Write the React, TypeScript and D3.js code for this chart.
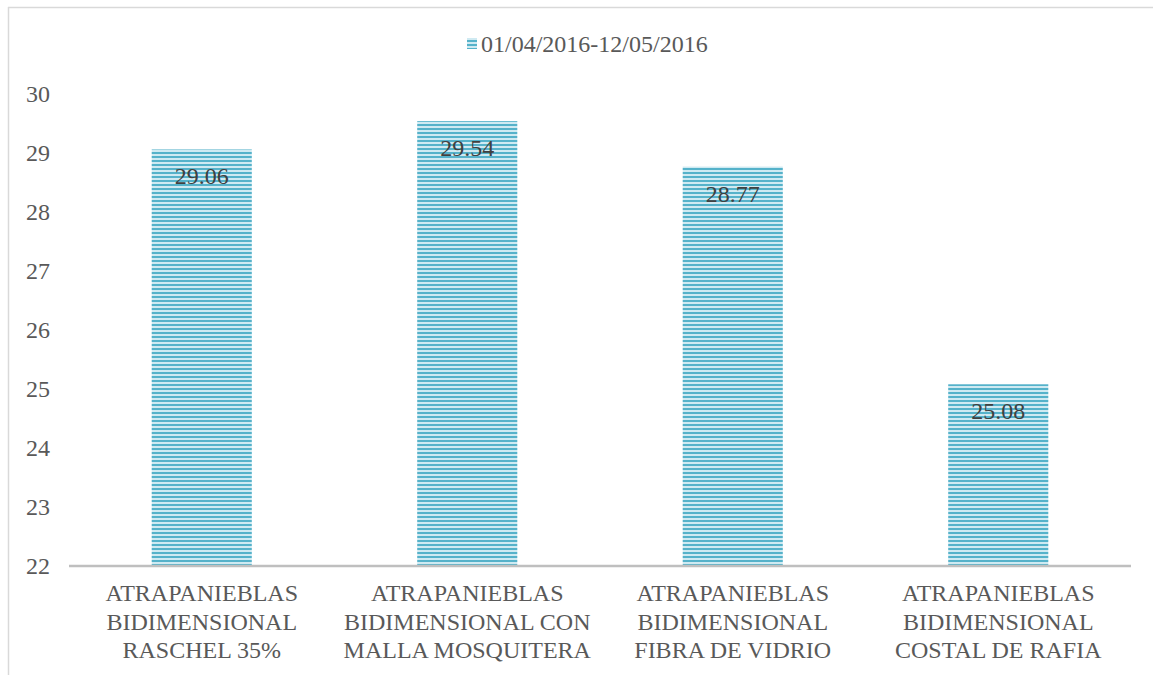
import React from "react";
import * as d3 from "d3";

const categories: string[][] = [
  ["ATRAPANIEBLAS", "BIDIMENSIONAL", "RASCHEL 35%"],
  ["ATRAPANIEBLAS", "BIDIMENSIONAL CON", "MALLA MOSQUITERA"],
  ["ATRAPANIEBLAS", "BIDIMENSIONAL", "FIBRA DE VIDRIO"],
  ["ATRAPANIEBLAS", "BIDIMENSIONAL", "COSTAL DE RAFIA"],
];
const values: number[] = [29.06, 29.54, 28.77, 25.08];
const seriesName = "01/04/2016-12/05/2016";
const yTicks: number[] = [22, 23, 24, 25, 26, 27, 28, 29, 30];

const font = "'Liberation Serif'";
const ts = (size: number) => ({ fontFamily: font, fontSize: size });

export default function App() {
  const W = 1153, H = 675;
  const left = 69, right = 1131, top = 94, bottom = 566;
  const x = d3.scaleBand<number>().domain(d3.range(values.length)).range([left, right]).paddingInner(0.623).paddingOuter(0.3115);
  const y = d3.scaleLinear().domain([22, 30]).range([bottom, top]);
  return (
    <svg width={W} height={H} style={{ position: "absolute", left: 0, top: 0, background: "#fff" }}>
      <defs>
        <pattern id="stripes" width="8" height="4" patternUnits="userSpaceOnUse">
          <rect width="8" height="4" fill="#cfeaf2" />
          <rect width="8" height="2" fill="#55b2ca" />
        </pattern>
      </defs>
      <rect x={0} y={0} width={W} height={H} fill="#fff" />
      <line x1={8} y1={7.5} x2={1153} y2={7.5} stroke="#d9d9d9" strokeWidth={1.5} />
      <line x1={8.5} y1={7} x2={8.5} y2={675} stroke="#d9d9d9" strokeWidth={1.5} />
      {/* legend */}
      <rect x={467} y={38} width={10} height={11} fill="url(#stripes)" />
      <text x={481} y={44} dominantBaseline="central" style={ts(24)} fill="#595959">{seriesName}</text>
      {/* y ticks */}
      {yTicks.map((t) => (
        <text key={t} x={50} y={y(t)} textAnchor="end" dominantBaseline="central" style={ts(24)} fill="#595959">{t}</text>
      ))}
      {/* bars */}
      {values.map((v, i) => (
        <g key={i}>
          <rect x={x(i)} y={y(v)} width={x.bandwidth()} height={bottom - y(v)} fill="url(#stripes)" />
          <text x={(x(i) as number) + x.bandwidth() / 2} y={y(v) + 27} textAnchor="middle" dominantBaseline="central" style={ts(24)} fill="#404040">{v.toFixed(2)}</text>
        </g>
      ))}
      <line x1={left} y1={bottom} x2={right} y2={bottom} stroke="#bfbfbf" strokeWidth={2.5} />
      {/* category labels */}
      {categories.map((lines, i) => (
        <text key={i} textAnchor="middle" style={ts(24)} fill="#595959">
          {lines.map((l, j) => (
            <tspan key={j} x={(x(i) as number) + x.bandwidth() / 2} y={593 + j * 28.5} dominantBaseline="central">{l}</tspan>
          ))}
        </text>
      ))}
    </svg>
  );
}
